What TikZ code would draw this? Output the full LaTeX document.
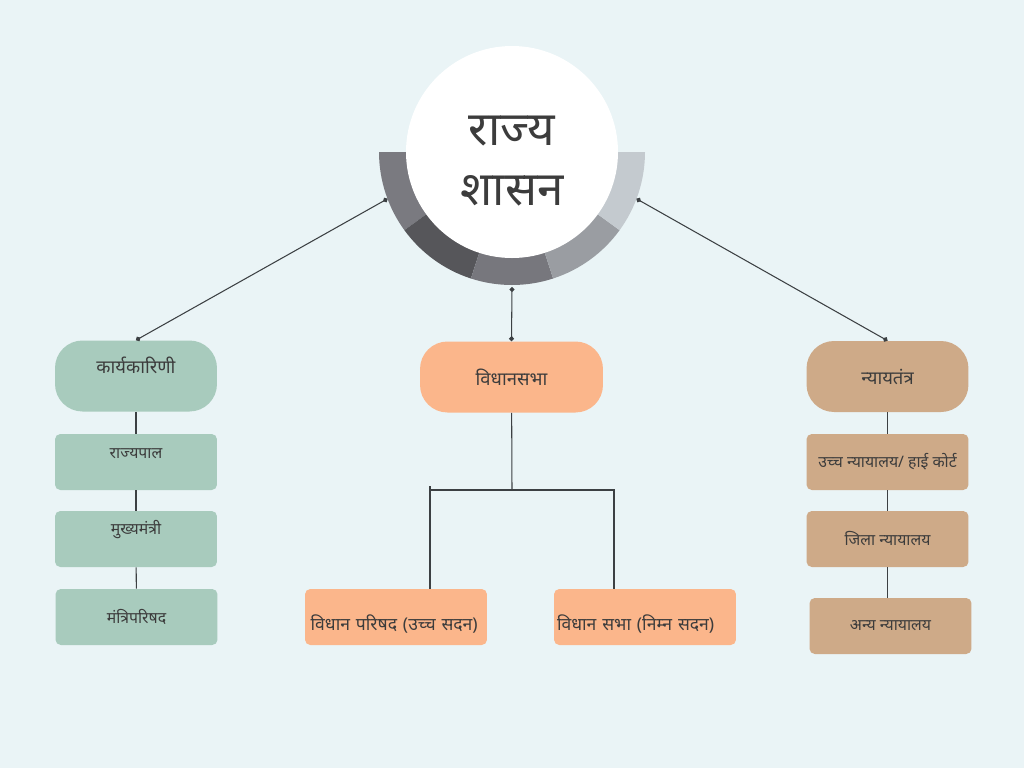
\documentclass[tikz,border=0pt]{standalone}
\usepackage{fontspec}
\newfontfamily\deva[Script=Devanagari]{Noto Sans}
\usepackage{xcolor}
\usepackage{tikz}
\usetikzlibrary{arrows.meta}
\definecolor{bgblue}{RGB}{234,244,246}
\definecolor{sage}{RGB}{168,203,189}
\definecolor{peach}{RGB}{251,182,139}
\definecolor{tan}{RGB}{206,170,136}
\definecolor{ringa}{RGB}{122,122,128}
\definecolor{ringb}{RGB}{86,86,90}
\definecolor{ringc}{RGB}{119,119,125}
\definecolor{ringd}{RGB}{154,157,162}
\definecolor{ringe}{RGB}{196,202,207}
\definecolor{textgray}{RGB}{60,60,60}
\definecolor{linegray}{RGB}{60,64,67}

\begin{document}
\begin{tikzpicture}[x=0.02cm,y=-0.02cm,
  box/.style={rounded corners=3pt,minimum width=3.24cm,minimum height=1.12cm,
              font=\deva\fontsize{9}{11}\selectfont,text=textgray,align=center},
  headbox/.style={box,rounded corners=0.55cm,minimum height=1.42cm,
                  font=\deva\fontsize{10.5}{12}\selectfont},
  housebox/.style={box,fill=peach,minimum width=3.64cm,text width=3.52cm,
                   inner xsep=0.06cm,align=left,text height=0.6cm,
                   font=\deva\fontsize{10}{12}\selectfont},
  lift/.style={text depth=0.45cm},
  link/.style={draw=linegray,line width=0.6pt},
  dotlink/.style={link,{Circle[length=2.8pt]}-{Circle[length=2.8pt]}}
]

% Background
\fill[bgblue] (0,0) rectangle (1024,768);
\useasboundingbox (0,0) rectangle (1024,768);

% Ring and disc behind the title
\begin{scope}[shift={(512,152)},y=0.02cm]
  \foreach \c [count=\i from 0] in {ringa,ringb,ringc,ringd,ringe} {
    \fill[\c] (0,0) -- ({180+36*\i}:133)
      arc[start angle={180+36*\i},delta angle=36,radius=133] -- cycle;
  }
  \fill[white] (0,0) circle[radius=106];
  \coordinate (ringL) at (200.6:133);
  \coordinate (ringB) at (270:135);
  \coordinate (ringR) at (339.4:133);
\end{scope}

% Title
\node[text=textgray,align=center,font=\deva\fontsize{27}{34}\selectfont]
  (title) at (512,161) {राज्य\\शासन};

% Executive
\node[headbox,lift,fill=sage] (exec) at (136,376) {कार्यकारिणी};
\node[box,text depth=0.35cm,fill=sage] (gov) at (136,462) {राज्यपाल};
\node[box,lift,fill=sage] (cm) at (136,539) {मुख्यमंत्री};
\node[box,fill=sage] (council) at (136.5,617) {मंत्रिपरिषद};

% Legislature
\node[headbox,fill=peach,minimum width=3.66cm] (leg) at (511.5,377) {विधानसभा};
\node[housebox] (upper) at (396,617) {\hspace{1.5pt}विधान परिषद (उच्च सदन)};
\node[housebox] (lower) at (645,617) {विधान सभा (निम्न सदन)};

% Judiciary
\node[headbox,fill=tan] (jud) at (887.5,376.5) {न्यायतंत्र};
\node[box,fill=tan] (hc) at (887.5,462) {उच्च न्यायालय/ हाई कोर्ट};
\node[box,fill=tan] (dc) at (887.5,539) {जिला न्यायालय};
\node[box,fill=tan] (oc) at (890.5,626) {अन्य न्यायालय};

% Title to branches
\draw[dotlink] (ringL) -- (exec.north);
\draw[dotlink] (ringB) -- (leg.north);
\draw[dotlink] (ringR) -- (jud.north);

% Columns
\draw[link] (exec) -- (gov);
\draw[link] (gov) -- (cm);
\draw[link] (cm) -- (council);
\draw[link] (jud) -- (hc);
\draw[link] (hc) -- (dc);
\draw[link] (dc.south) -- (dc.south |- oc.north);

% Two houses
\coordinate (split) at (512,490);
\coordinate (armL) at (430,486);
\coordinate (armR) at (614,490);
\draw[link] (leg) -- (split);
\draw[link] (armL |- split) -- (armR) -- (armR |- lower.north);
\draw[link] (armL) -- (armL |- upper.north);

\end{tikzpicture}
\end{document}
